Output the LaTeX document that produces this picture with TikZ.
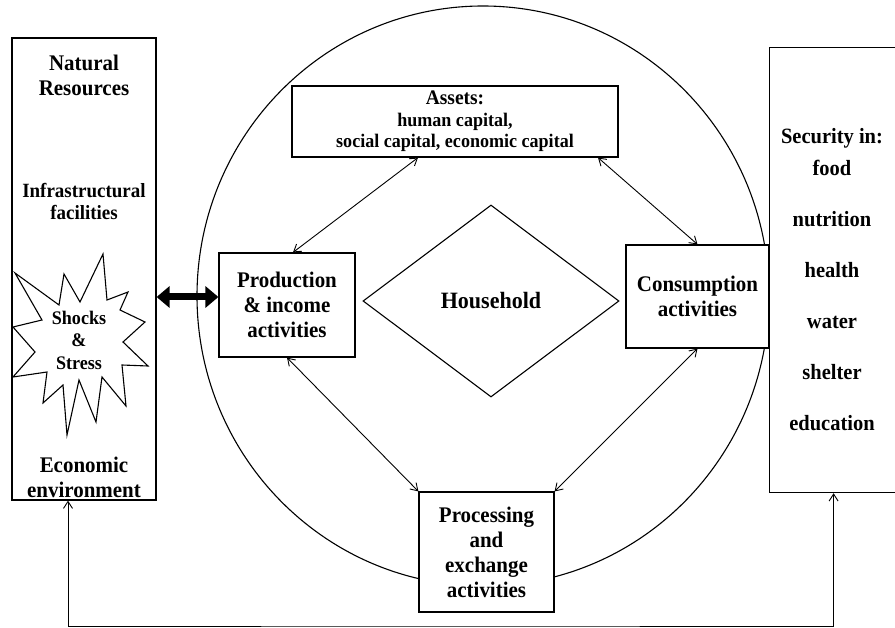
\documentclass[tikz,border=0pt]{standalone}
\usepackage{fontspec}
\setmainfont[FakeStretch=0.94]{Liberation Serif}
\usetikzlibrary{arrows.meta,shapes.geometric}
\begin{document}
\begin{tikzpicture}[x=1pt,y=-1pt,
  frame/.style={draw, line width=1.2pt, fill=white, inner sep=0pt},
  txt/.style={font=\bfseries\fontsize{22.3}{25}\selectfont, align=center, inner sep=0pt},
  item/.style={font=\bfseries\fontsize{21.8}{24}\selectfont, inner sep=0pt},
  link/.style={line width=0.9pt, {Straight Barb[length=7pt,width=9pt]}-{Straight Barb[length=7pt,width=9pt]}},
  bigarrow/.style={line width=7pt, {Triangle[length=13pt,width=21pt]}-{Triangle[length=13pt,width=21pt]}},
]
\useasboundingbox (0,0) rectangle (895,628);
\fill[white] (0,0) rectangle (895,628);

% household boundary
\node[draw, ellipse, line width=1.1pt, minimum width=572pt, minimum height=580pt, inner sep=0pt] (ring) at (483,296) {};

% environment column on the left
\node[frame, minimum width=144pt, minimum height=462pt] (env) at (84,269) {};
\node[txt] (natres) at (84,75.5) {Natural\\Resources};
\node[txt, font=\bfseries\fontsize{20.2}{22}\selectfont] (infra) at (84,201) {Infrastructural\\facilities};
\node[txt] (econ) at (84,477.5) {Economic\\environment};

% shocks and stress burst
\draw[line width=1.1pt, fill=white]
  (103,254) -- (107,300) -- (128,292) -- (120,310) -- (145,322) -- (123,342)
  -- (148,366) -- (122,365) -- (126,406) -- (102,377) -- (96,422) -- (79,380)
  -- (67,435) -- (63,385) -- (43,403) -- (47,372) -- (13,377) -- (35,352)
  -- (13,327) -- (42,320) -- (15,273) -- (59,305) -- (64,274) -- (80,302) -- cycle;
\node[txt, font=\bfseries\fontsize{19.2}{22.5}\selectfont] (shock) at (79,340) {Shocks\\\&\\Stress};

% security column on the right
\node[frame, minimum width=128pt, minimum height=445pt, anchor=north west] (sec) at (769,47) {};
\node[item] (s0) at (832,138) {Security in:};
\node[item] (s1) at (832,168) {food};
\node[item] (s2) at (832,219) {nutrition};
\node[item] (s3) at (832,270) {health};
\node[item] (s4) at (832,322) {water};
\node[item] (s5) at (832,372) {shelter};
\node[item] (s6) at (832,423) {education};

% household activities
\node[frame, align=center, minimum width=326pt, minimum height=71pt,
      font=\bfseries\fontsize{19.2}{21.5}\selectfont] (assets) at (455,121.5)
  {{\fontsize{20.7}{21.5}\selectfont Assets:}\\human capital,\\social capital, economic capital};
\node[frame, txt, minimum width=136pt, minimum height=104pt] (prod) at (287,305) {Production\\\& income\\activities};
\node[frame, txt, minimum width=143pt, minimum height=103pt] (cons) at (697.5,296.5) {Consumption\\activities};
\node[frame, txt, minimum width=135pt, minimum height=120pt] (proc) at (486.5,552) {Processing\\and\\exchange\\activities};
\node[draw, diamond, line width=1.1pt, minimum width=256pt, minimum height=192pt, inner sep=0pt,
      font=\bfseries\fontsize{23.4}{25}\selectfont] (house) at (491,301) {Household};

% links between activities
\draw[link] ([xshift=-37pt]assets.south) -- ([xshift=6pt]prod.north);
\draw[link] ([xshift=143pt]assets.south) -- (cons.north);
\draw[link] (prod.south) -- (proc.north west);
\draw[link] (cons.south) -- (proc.north east);

% exchange with the environment
\path ([yshift=8pt]prod.west) coordinate (pw);
\draw[bigarrow] (pw -| env.east) -- (pw);

% feedback loop along the bottom
\coordinate (fb) at (450,626);
\draw[link] ([xshift=-16pt]env.south) |- (fb) -| (sec.south);
\end{tikzpicture}
\end{document}
